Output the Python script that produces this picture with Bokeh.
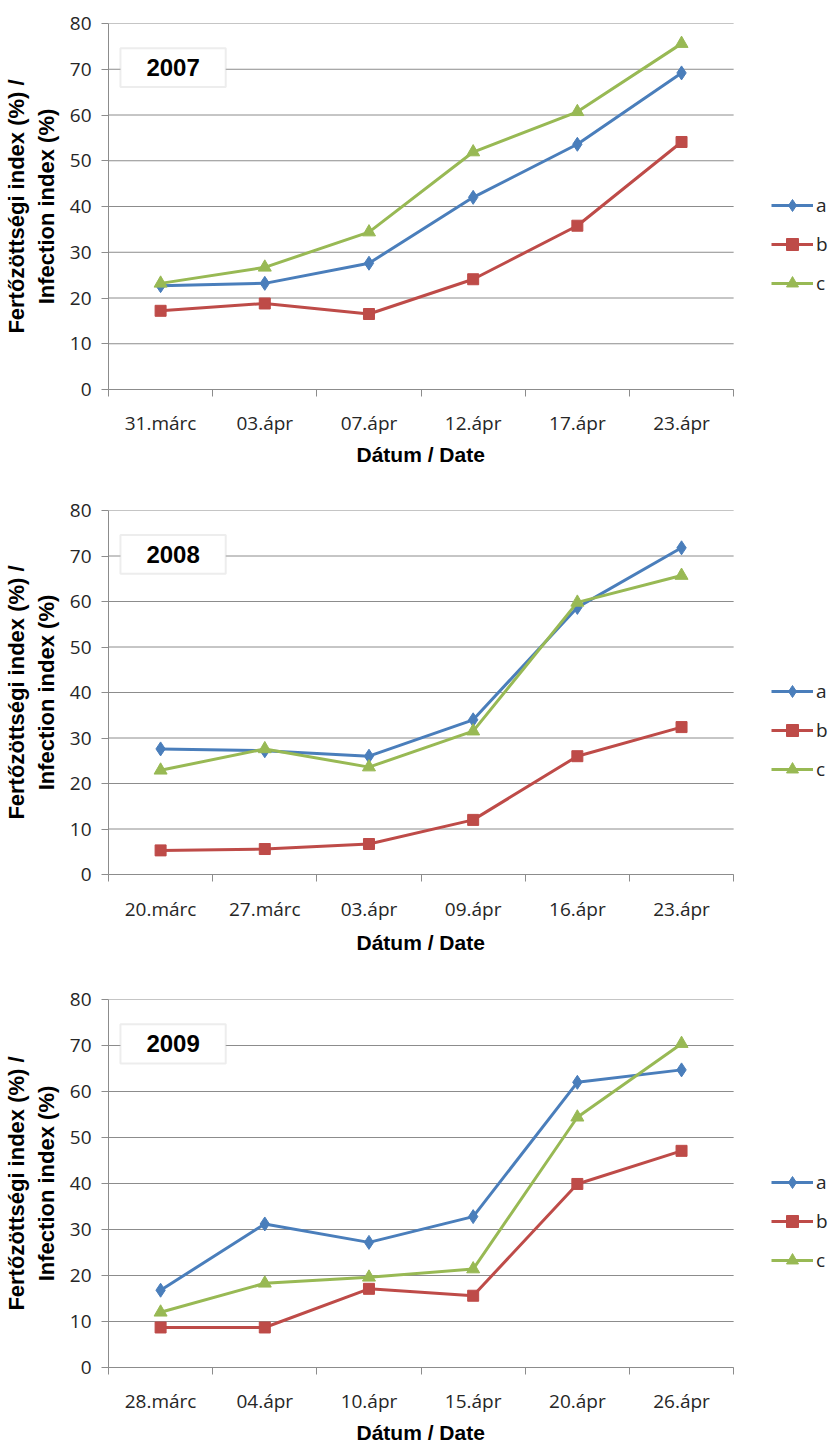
from bokeh.plotting import figure
from bokeh.layouts import column
from bokeh.models import (Range1d, FixedTicker, Legend, LegendItem, BoxAnnotation, Label, Title)
from bokeh.embed import file_html
from bokeh.resources import INLINE

# Infection index (%) per sampling date, series a / b / c
dates_2007 = ["31.márc", "03.ápr", "07.ápr", "12.ápr", "17.ápr", "23.ápr"]
a_2007 = [22.7, 23.2, 27.6, 42.0, 53.6, 69.2]
b_2007 = [17.2, 18.8, 16.5, 24.1, 35.8, 54.1]
c_2007 = [23.2, 26.7, 34.4, 51.9, 60.7, 75.6]

dates_2008 = ["20.márc", "27.márc", "03.ápr", "09.ápr", "16.ápr", "23.ápr"]
a_2008 = [27.6, 27.2, 26.0, 34.0, 58.7, 71.8]
b_2008 = [5.3, 5.6, 6.7, 12.0, 26.0, 32.4]
c_2008 = [22.9, 27.6, 23.6, 31.5, 59.8, 65.7]

dates_2009 = ["28.márc", "04.ápr", "10.ápr", "15.ápr", "20.ápr", "26.ápr"]
a_2009 = [16.8, 31.2, 27.2, 32.8, 62.0, 64.7]
b_2009 = [8.7, 8.7, 17.1, 15.6, 39.9, 47.1]
c_2009 = [12.0, 18.3, 19.6, 21.4, 54.4, 70.4]

series_names = ["a", "b", "c"]
y_ticks = [0, 10, 20, 30, 40, 50, 60, 70, 80]

COLORS = {"a": "#4A7EBB", "b": "#BE4B48", "c": "#98B954"}
MARKERS = {"a": ("diamond", 14), "b": ("square", 11), "c": ("triangle", 13)}
GRID = "#8C8C8C"
TEXT = "#262626"
TICK_FONT = "Open Sans"
BOLD_FONT = "Liberation Sans"

LEFT = 107          # left margin holding the y axis
PLOT_W = 626        # width of the gridded plotting area
FRAME_W = 831 - LEFT  # frame also covers the legend column on the right


def panel(year, dates, values, height, top, bottom, label_gap, title_gap):
    n = len(dates)
    xs = list(range(1, n + 1))
    x0, x1 = 0.5, n + 0.5
    x_end = x0 + (x1 - x0) * FRAME_W / PLOT_W
    frame_h = height - top - bottom
    p = figure(width=831, height=height, output_backend="svg", toolbar_location=None,
               x_range=Range1d(x0, x_end), y_range=Range1d(0, 80),
               min_border_left=LEFT, min_border_right=0,
               min_border_top=top, min_border_bottom=bottom)
    p.outline_line_color = None
    p.background_fill_color = "white"
    p.xgrid.grid_line_color = None
    p.ygrid.grid_line_color = None

    # horizontal grid lines, limited to the plotting area
    p.segment(x0=[x0] * len(y_ticks), x1=[x1] * len(y_ticks), y0=y_ticks, y1=y_ticks,
              line_color=GRID, line_width=1, level="underlay")

    # y axis
    p.yaxis.ticker = FixedTicker(ticks=y_ticks, minor_ticks=[])
    p.yaxis.axis_line_color = GRID
    p.yaxis.major_tick_line_color = GRID
    p.yaxis.major_tick_out = 7
    p.yaxis.major_tick_in = 0
    p.yaxis.major_label_standoff = 10
    p.yaxis.major_label_text_font = TICK_FONT
    p.yaxis.major_label_text_font_size = "19px"
    p.yaxis.major_label_text_color = TEXT
    p.yaxis.axis_label = "Fertőzöttségi index (%) /\nInfection index (%)"
    p.yaxis.axis_label_text_font = BOLD_FONT
    p.yaxis.axis_label_text_font_style = "bold"
    p.yaxis.axis_label_text_font_size = "22px"
    p.yaxis.axis_label_text_color = "black"
    p.yaxis.axis_label_standoff = 8

    # x axis: labels at category centres, tick marks between categories
    edges = [x - 0.5 for x in xs] + [x1]
    p.xaxis.bounds = (x0, x1)
    p.xaxis.ticker = FixedTicker(ticks=xs, minor_ticks=edges)
    p.xaxis.major_label_overrides = {x: d for x, d in zip(xs, dates)}
    p.xaxis.axis_line_color = GRID
    p.xaxis.major_tick_line_color = None
    p.xaxis.major_tick_out = 0
    p.xaxis.major_tick_in = 0
    p.xaxis.minor_tick_line_color = GRID
    p.xaxis.minor_tick_out = 7
    p.xaxis.minor_tick_in = 0
    p.xaxis.major_label_standoff = label_gap
    p.xaxis.major_label_text_font = TICK_FONT
    p.xaxis.major_label_text_font_size = "19px"
    p.xaxis.major_label_text_color = TEXT

    # x axis title, centred under the plotting area (not the whole frame)
    p.add_layout(Title(text="Dátum / Date", align="left", offset=248,
                       standoff=title_gap, text_font=BOLD_FONT,
                       text_font_style="bold", text_font_size="21px",
                       text_color="black"), "below")

    items = []
    for name, ys in zip(series_names, values):
        col = COLORS[name]
        marker, size = MARKERS[name]
        ln = p.line(xs, ys, line_color=col, line_width=3)
        sc = p.scatter(xs, ys, marker=marker, size=size, fill_color=col, line_color=col)
        items.append(LegendItem(label=name, renderers=[ln, sc]))

    # legend in the column to the right of the plotting area
    legend = Legend(items=items, location=(PLOT_W + 37, frame_h // 2 - 92),
                    glyph_width=42, glyph_height=30, label_height=20, label_width=10,
                    spacing=9, padding=0, margin=0, label_standoff=3,
                    label_text_font=TICK_FONT, label_text_font_size="19px",
                    label_text_color=TEXT, border_line_color=None,
                    background_fill_alpha=0)
    p.add_layout(legend, "center")

    # year caption box
    p.add_layout(BoxAnnotation(left=0.615, right=1.625, bottom=66.1, top=74.6,
                               fill_color="white", fill_alpha=1,
                               line_color="#C4C4C4", line_width=2))
    p.add_layout(Label(x=1.12, y=70.35, text=year, text_align="center",
                       text_baseline="middle", text_font=BOLD_FONT,
                       text_font_style="bold", text_font_size="24px",
                       text_color="black"))
    return p


p1 = panel("2007", dates_2007, [a_2007, b_2007, c_2007], 482, 23, 93, 13, 5)
p2 = panel("2008", dates_2008, [a_2008, b_2008, c_2008], 479, 28, 87, 14, 8)
p3 = panel("2009", dates_2009, [a_2009, b_2009, c_2009], 486, 38, 80, 13, 5)

p = column(p1, p2, p3, spacing=0)
open("out.html", "w").write(file_html(p, INLINE))
